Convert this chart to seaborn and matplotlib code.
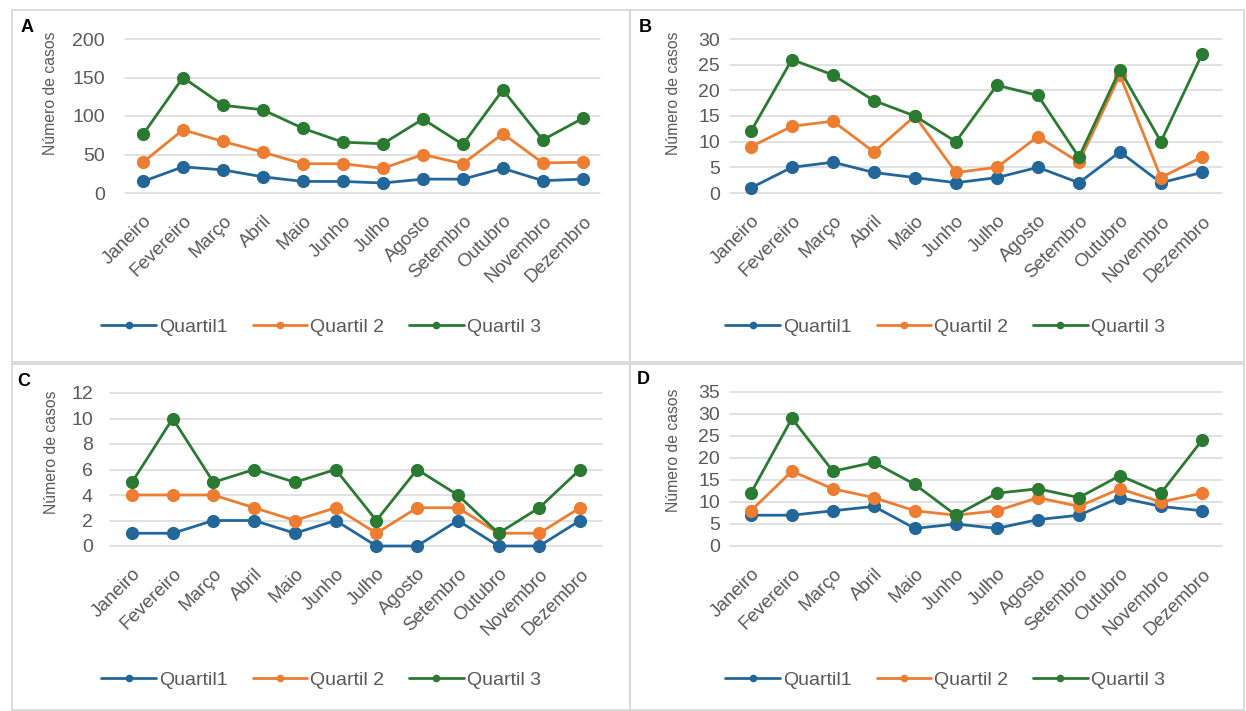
import numpy as np
import pandas as pd
import matplotlib
matplotlib.use("Agg")
import matplotlib.pyplot as plt
from matplotlib.lines import Line2D
from matplotlib.patches import Rectangle
import seaborn as sns

# ---------------- data ----------------
months = ["Janeiro", "Fevereiro", "Março", "Abril", "Maio", "Junho",
          "Julho", "Agosto", "Setembro", "Outubro", "Novembro", "Dezembro"]
series_names = ["Quartil1", "Quartil 2", "Quartil 3"]

a_q1 = [15, 34, 30, 21, 15, 15, 13, 18, 18, 32, 16, 18]
a_q2 = [40, 82, 67, 53, 38, 38, 32, 50, 38, 77, 39, 40]
a_q3 = [76, 150, 114, 108, 84, 66, 64, 96, 63, 134, 69, 97]

b_q1 = [1, 5, 6, 4, 3, 2, 3, 5, 2, 8, 2, 4]
b_q2 = [9, 13, 14, 8, 15, 4, 5, 11, 6, 23, 3, 7]
b_q3 = [12, 26, 23, 18, 15, 10, 21, 19, 7, 24, 10, 27]

c_q1 = [1, 1, 2, 2, 1, 2, 0, 0, 2, 0, 0, 2]
c_q2 = [4, 4, 4, 3, 2, 3, 1, 3, 3, 1, 1, 3]
c_q3 = [5, 10, 5, 6, 5, 6, 2, 6, 4, 1, 3, 6]

d_q1 = [7, 7, 8, 9, 4, 5, 4, 6, 7, 11, 9, 8]
d_q2 = [8, 17, 13, 11, 8, 7, 8, 11, 9, 13, 10, 12]
d_q3 = [12, 29, 17, 19, 14, 7, 12, 13, 11, 16, 12, 24]

panel_letters = ["A", "B", "C", "D"]
y_ticks = [
    [0, 50, 100, 150, 200],
    [0, 5, 10, 15, 20, 25, 30],
    [0, 2, 4, 6, 8, 10, 12],
    [0, 5, 10, 15, 20, 25, 30, 35],
]
y_label = "Número de casos"

# ---------------- style ----------------
sns.set_theme(style="white")
plt.rcParams["font.family"] = ["Liberation Sans", "DejaVu Sans"]

W, H = 1246, 711
fig = plt.figure(figsize=(W / 100, H / 100), dpi=100)
fig.patch.set_facecolor("white")

colors = {"Quartil1": "#23679A", "Quartil 2": "#ED7D31", "Quartil 3": "#2A7A31"}
txt_gray = "#595959"
grid_gray = "#D9D9D9"

# panel boxes (pixel coords, top-origin): left, top, right, bottom
boxes = [(12, 10, 630, 362), (630, 10, 1244, 362),
         (12, 364, 630, 710), (630, 364, 1244, 710)]
for (l, t, r, b) in boxes:
    fig.add_artist(Rectangle((l / W, 1 - b / H), (r - l) / W, (b - t) / H,
                             transform=fig.transFigure, fill=False,
                             edgecolor="#D6D6D6", linewidth=1.2))

# axes areas: left, right, top, bottom (pixels) and x-limits
ax_specs = [
    dict(l=125, r=600, t=39, b=193, xlim=(-0.45, 11.43), ylab_x=58, ylab_y=0.65,
         letter=(21, 27), legend=(321, 327)),
    dict(l=730, r=1222, t=39, b=193, xlim=(-0.51, 11.49), ylab_x=681, ylab_y=0.65,
         letter=(639, 27), legend=(945, 327)),
    dict(l=110, r=602, t=393, b=546, xlim=(-0.54, 11.54), ylab_x=59, ylab_y=0.61,
         letter=(17, 381), legend=(321, 680)),
    dict(l=730, r=1222, t=392, b=546, xlim=(-0.51, 11.49), ylab_x=681, ylab_y=0.62,
         letter=(637, 379), legend=(945, 680)),
]

all_data = [(a_q1, a_q2, a_q3), (b_q1, b_q2, b_q3),
            (c_q1, c_q2, c_q3), (d_q1, d_q2, d_q3)]

for i, (spec, vals) in enumerate(zip(ax_specs, all_data)):
    l, r, t, b = spec["l"], spec["r"], spec["t"], spec["b"]
    ax = fig.add_axes([l / W, 1 - b / H, (r - l) / W, (b - t) / H])
    ax.set_facecolor("none")

    df = pd.DataFrame({
        "Mês": months * 3,
        "Série": [s for s in series_names for _ in months],
        "Casos": list(vals[0]) + list(vals[1]) + list(vals[2]),
    })

    yt = y_ticks[i]
    for yv in yt:
        ax.axhline(yv, color=grid_gray, linewidth=1.1, zorder=0, clip_on=False)

    sns.lineplot(data=df, x="Mês", y="Casos", hue="Série", hue_order=series_names,
                 palette=colors, marker="o", markersize=9.5, markeredgewidth=0,
                 linewidth=2.0, sort=False, legend=False, ax=ax, clip_on=False,
                 zorder=3)

    ax.set_xlim(*spec["xlim"])
    ax.set_ylim(yt[0], yt[-1])
    ax.set_yticks(yt)
    ax.set_yticklabels([str(v) for v in yt])
    ax.set_xticks(range(len(months)))
    ax.set_xticklabels(months)
    for s in ax.spines.values():
        s.set_visible(False)
    ax.grid(False)

    ypad = (l - (105 if i == 0 else (720 if i % 2 else 93))) * 0.72
    ax.tick_params(axis="y", length=0, labelsize=14, labelcolor=txt_gray, pad=ypad)
    ax.tick_params(axis="x", length=0, labelsize=13.5, labelcolor=txt_gray, pad=14)
    for lab in ax.get_xticklabels():
        lab.set_rotation(45)
        lab.set_ha("right")
        lab.set_va("top")
        lab.set_rotation_mode("anchor")

    ax.set_xlabel("")
    ax.set_ylabel(y_label, fontsize=11.3, color=txt_gray)
    ax.yaxis.set_label_coords((spec["ylab_x"] - l) / (r - l), spec["ylab_y"])

    lx, ly = spec["letter"]
    fig.text(lx / W, 1 - ly / H, panel_letters[i], fontsize=13, fontweight="bold",
             color="black", ha="left", va="center")

    handles = [Line2D([0], [0], color=colors[s], linewidth=2.0, marker="o",
                      markersize=5.5, markeredgewidth=0) for s in series_names]
    cx, cy = spec["legend"]
    fig.legend(handles, series_names, loc="center",
               bbox_to_anchor=(cx / W, 1 - cy / H), ncol=3, frameon=False,
               fontsize=14, handlelength=2.8, handletextpad=0.15,
               columnspacing=1.3, labelcolor=txt_gray)

fig.savefig("out.png", dpi=100, facecolor="white")
